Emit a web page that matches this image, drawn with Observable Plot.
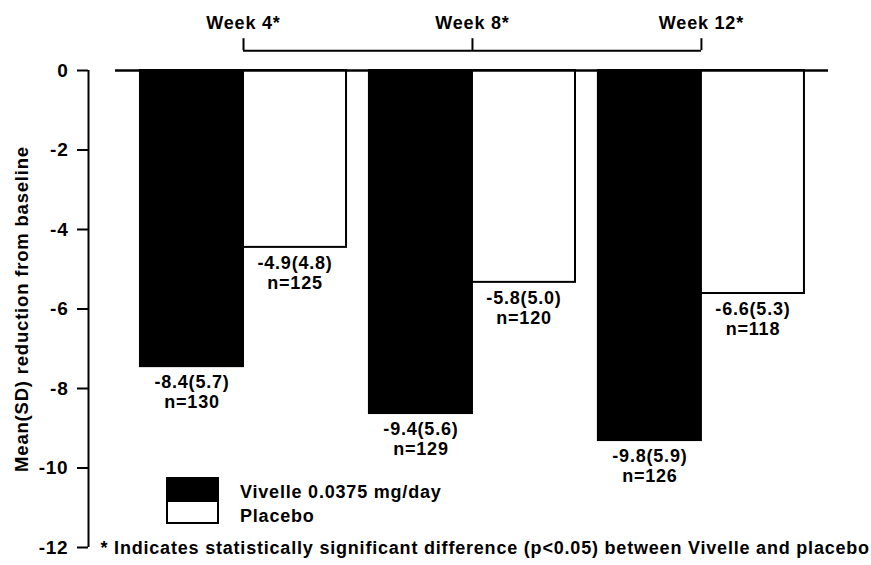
<!DOCTYPE html>
<html>
<head>
<meta charset="utf-8">
<script src="https://cdn.jsdelivr.net/npm/d3@7"></script>
<script src="https://cdn.jsdelivr.net/npm/@observablehq/plot@0.6"></script>
<style>
  body { margin: 0; background: #fff; }
  #wrap { position: relative; width: 871px; height: 565px; font-family: "Liberation Sans", Arial, sans-serif; font-weight: bold; }
  #wrap svg text { letter-spacing: 0.8px; }
  .leg { position: absolute; left: 166px; width: 49px; border: 2px solid #000; box-sizing: content-box; }
  .legtxt { position: absolute; left: 240px; font-size: 18px; letter-spacing: 0.8px; color: #000; white-space: nowrap; }
</style>
</head>
<body>
<div id="wrap"></div>
<script>
// ---- data ----
const weeks = ["Week 4*", "Week 8*", "Week 12*"];
const weekIndex = [1, 2, 3];
const vivelle = [-7.45, -8.63, -9.31];          // drawn bar heights
const placebo = [-4.45, -5.33, -5.61];
const vivelleMeanSD = ["-8.4(5.7)", "-9.4(5.6)", "-9.8(5.9)"];
const vivelleN = [130, 129, 126];
const placeboMeanSD = ["-4.9(4.8)", "-5.8(5.0)", "-6.6(5.3)"];
const placeboN = [125, 120, 118];
const yTicks = [0, -2, -4, -6, -8, -10, -12];
const seriesNames = ["Vivelle 0.0375 mg/day", "Placebo"];
const footnote = "* Indicates statistically significant difference (p<0.05) between Vivelle and placebo";
const yLabel = "Mean(SD) reduction from baseline";

// ---- derived tables ----
const half = 0.45;
const bars = [];
weekIndex.forEach((w, i) => {
  bars.push({week: w, x1: w - half, x2: w, v: vivelle[i], series: seriesNames[0],
             label: vivelleMeanSD[i] + "\nn=" + vivelleN[i]});
  bars.push({week: w, x1: w, x2: w + half, v: placebo[i], series: seriesNames[1],
             label: placeboMeanSD[i] + "\nn=" + placeboN[i]});
});
const weekRows = weekIndex.map((w, i) => ({w, name: weeks[i]}));

const xMin = 0.323, xMax = 3.555;
const font = "Liberation Sans, Arial, sans-serif";

const chart = Plot.plot({
  width: 871,
  height: 565,
  marginLeft: 88,
  marginRight: 871 - 828,
  marginTop: 70,
  marginBottom: 18,
  style: {fontFamily: font, fontWeight: "bold", fontSize: "18px", color: "#000", background: "#fff", overflow: "visible"},
  x: {type: "linear", domain: [xMin, xMax], axis: null},
  y: {domain: [-12, 0], label: null},
  marks: [
    Plot.axisY({ticks: yTicks, tickSize: 11, tickPadding: 9, tickFormat: d => String(d),
      fontSize: 19, fontWeight: "bold", strokeWidth: 2, label: null}),
    Plot.text([yLabel], {frameAnchor: "left", textAnchor: "middle", dx: -66, rotate: -90,
      fontSize: 18.5, fontWeight: "bold", fill: "#000"}),
    Plot.ruleX([xMin], {y1: 0, y2: -12, stroke: "#000", strokeWidth: 2}),
    Plot.rect(bars, {x1: "x1", x2: "x2", y1: 0, y2: "v",
      fill: d => d.series === seriesNames[0] ? "#000" : "#fff",
      stroke: "#000", strokeWidth: 2}),
    Plot.ruleY([0], {x1: 0.441, x2: xMax, stroke: "#000", strokeWidth: 2.5}),
    Plot.text(bars, {x: d => (d.x1 + d.x2) / 2, y: "v", text: "label", lineAnchor: "top", dy: 7,
      lineHeight: 1.12, fontSize: 18, fontWeight: "bold", fill: "#000"}),
    // week bracket
    Plot.ruleY([0.5], {x1: weekIndex[0], x2: weekIndex[2], stroke: "#000", strokeWidth: 2}),
    Plot.ruleX(weekRows, {x: "w", y1: 0.5, y2: 0.8, stroke: "#000", strokeWidth: 2}),
    Plot.text(weekRows, {x: "w", y: 1.18, text: "name", fontSize: 18, fontWeight: "bold", fill: "#000"}),
    // footnote
    Plot.text([footnote], {frameAnchor: "bottom-left", dx: 12, dy: 1, textAnchor: "start", lineAnchor: "middle",
      fontSize: 18, fontWeight: "bold", fill: "#000"})
  ]
});

const wrap = document.getElementById("wrap");
wrap.appendChild(chart);

// legend (HTML overlay)
const l1 = document.createElement("div");
l1.className = "leg"; l1.style.top = "477px"; l1.style.height = "23px"; l1.style.background = "#000";
const l2 = document.createElement("div");
l2.className = "leg"; l2.style.top = "500px"; l2.style.height = "20px"; l2.style.background = "#fff";
const t1 = document.createElement("div");
t1.className = "legtxt"; t1.style.top = "482px"; t1.textContent = seriesNames[0];
const t2 = document.createElement("div");
t2.className = "legtxt"; t2.style.top = "506px"; t2.textContent = seriesNames[1];
[l1, l2, t1, t2].forEach(e => wrap.appendChild(e));
</script>
</body>
</html>
